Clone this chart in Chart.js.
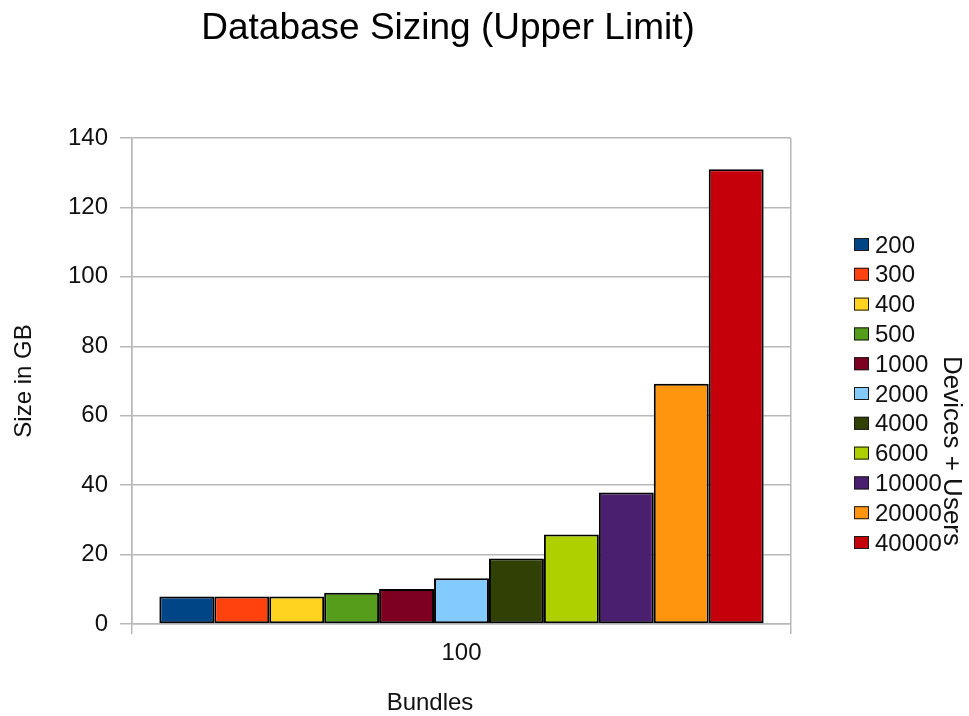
<!DOCTYPE html>
<html>
<head>
<meta charset="utf-8">
<script src="https://cdn.jsdelivr.net/npm/chart.js@4/dist/chart.umd.min.js"></script>
<style>
  html, body { margin: 0; padding: 0; background: #fff; }
</style>
</head>
<body>
<canvas id="chart" width="969" height="716"></canvas>
<script>
const bundles = ["100"];
const deviceCounts = ["200", "300", "400", "500", "1000", "2000", "4000", "6000", "10000", "20000", "40000"];
const sizeGB = [7.9, 7.9, 7.9, 9.0, 10.1, 13.2, 18.9, 25.8, 37.9, 69.2, 131.0];
const barColors = ["#004586", "#ff420e", "#ffd320", "#579d1c", "#7e0021", "#83caff",
                   "#314004", "#aecf00", "#4b1f6f", "#ff950e", "#c5000b"];

const titleText = "Database Sizing (Upper Limit)";
const xTitle = "Bundles";
const yTitle = "Size in GB";
const legendTitle = "Devices + Users";

Chart.defaults.font.family = "'Liberation Sans', Arial, sans-serif";
Chart.defaults.color = "#000";

const gridColor = "#b8b8b8";

// title, x title, legend and legend title drawn by hand
const decorations = {
  id: "decorations",
  afterDraw(chart) {
    const ctx = chart.ctx;
    ctx.save();
    ctx.fillStyle = "#000";
    ctx.font = "37px 'Liberation Sans', Arial, sans-serif";
    ctx.textAlign = "center";
    ctx.textBaseline = "alphabetic";
    ctx.fillText(titleText, 448, 39);

    ctx.fillStyle = "#111";
    ctx.font = "24px 'Liberation Sans', Arial, sans-serif";
    ctx.textBaseline = "middle";
    ctx.fillText(xTitle, 430, 703);

    ctx.textAlign = "left";
    chart.data.datasets.forEach((ds, i) => {
      const cy = 245 + i * 29.8;
      ctx.fillStyle = ds.backgroundColor;
      ctx.fillRect(854, cy - 7, 15, 13);
      ctx.strokeStyle = "#1a1a1a";
      ctx.lineWidth = 1;
      ctx.strokeRect(854.5, cy - 6.5, 14, 12);
      ctx.fillStyle = "#111";
      ctx.fillText(ds.label, 875, cy + 1);
    });

    ctx.translate(951, 451);
    ctx.rotate(Math.PI / 2);
    ctx.textAlign = "center";
    ctx.font = "26px 'Liberation Sans', Arial, sans-serif";
    ctx.fillText(legendTitle, 0, 0);
    ctx.restore();
  }
};

new Chart(document.getElementById("chart"), {
  type: "bar",
  data: {
    labels: bundles,
    datasets: deviceCounts.map((label, i) => ({
      label: label,
      data: [sizeGB[i]],
      backgroundColor: barColors[i],
      borderColor: "#000",
      borderWidth: 2,
      borderSkipped: false,
      categoryPercentage: 0.917,
      barPercentage: 1.0
    }))
  },
  options: {
    responsive: false,
    animation: false,
    layout: { padding: { left: 0, top: 138, right: 178, bottom: 0 } },
    plugins: {
      legend: { display: false },
      title: { display: false },
      tooltip: { enabled: false }
    },
    scales: {
      x: {
        afterFit: (scale) => { scale.height = 92; },
        grid: { color: gridColor, lineWidth: 1.5, tickLength: 10, offset: true },
        border: { color: gridColor, width: 1.5 },
        ticks: { font: { size: 24 }, padding: 5, color: "#111" }
      },
      y: {
        min: 0,
        max: 140,
        afterFit: (scale) => { scale.width = 132; },
        grid: { color: gridColor, lineWidth: 1.5, tickLength: 12 },
        border: { color: gridColor, width: 1.5 },
        ticks: { stepSize: 20, font: { size: 24 }, padding: 12, color: "#111" },
        title: {
          display: true,
          text: yTitle,
          font: { size: 24 },
          color: "#111",
          padding: { top: 10, bottom: 0 }
        }
      }
    }
  },
  plugins: [decorations]
});
</script>
</body>
</html>
